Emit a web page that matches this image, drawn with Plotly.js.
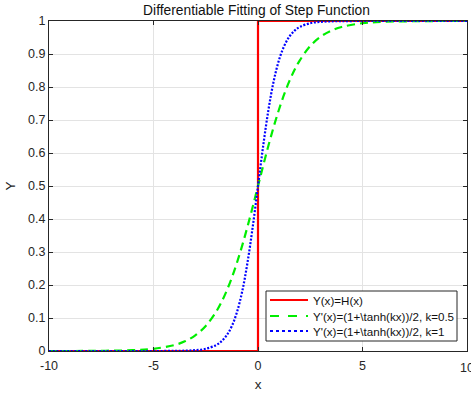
<!DOCTYPE html>
<html><head><meta charset="utf-8">
<script src="https://cdn.plot.ly/plotly-3.0.1.min.js"></script>
<style>html,body{margin:0;padding:0;background:#fff}#chart{width:471px;height:394px}</style>
</head><body><div id="chart"></div>
<script>
// Step function H(x)
var stepX = [-10, 0, 0, 10];
var stepY = [0, 0, 1, 1];
// sampled x positions
var xs = [-10, -8, -6, -5, -4, -3.5, -3, -2.5, -2, -1.75, -1.5, -1.25, -1, -0.75, -0.5, -0.25, 0,
          0.25, 0.5, 0.75, 1, 1.25, 1.5, 1.75, 2, 2.5, 3, 3.5, 4, 5, 6, 8, 10];
// k = 0.5 curve
var yK05 = [0.0000, 0.0003, 0.0025, 0.0067, 0.0180, 0.0293, 0.0474, 0.0759, 0.1192, 0.1480, 0.1824, 0.2227, 0.2689, 0.3208, 0.3775, 0.4378, 0.5000,
            0.5622, 0.6225, 0.6792, 0.7311, 0.7773, 0.8176, 0.8520, 0.8808, 0.9241, 0.9526, 0.9707, 0.9820, 0.9933, 0.9975, 0.9997, 1.0000];
// k = 1 curve
var yK1 = [0.0000, 0.0000, 0.0000, 0.0000, 0.0003, 0.0009, 0.0025, 0.0067, 0.0180, 0.0293, 0.0474, 0.0759, 0.1192, 0.1824, 0.2689, 0.3775, 0.5000,
           0.6225, 0.7311, 0.8176, 0.8808, 0.9241, 0.9526, 0.9707, 0.9820, 0.9933, 0.9975, 0.9991, 0.9997, 1.0000, 1.0000, 1.0000, 1.0000];
var names = ["Y(x)=H(x)", "Y'(x)=(1+\\tanh(kx))/2, k=0.5", "Y'(x)=(1+\\tanh(kx))/2, k=1"];
var xTicks = [-10, -5, 0, 5, 10];
var xTickText = ['-10', '-5', '0', '5', ''];
var lastTick = '10';

var colors = ['#ff0000', '#00ee00', '#0000ff'];
var dashes = ['solid', '8px,5px', '2px,1.6px'];

var traces = [
  {x: stepX, y: stepY, mode: 'lines', name: names[0], showlegend: false, line: {color: colors[0], width: 2.2}},
  {x: xs, y: yK05, mode: 'lines', name: names[1], showlegend: false, line: {color: colors[1], width: 2.2, dash: dashes[1], shape: 'spline'}},
  {x: xs, y: yK1, mode: 'lines', name: names[2], showlegend: false, line: {color: colors[2], width: 2.2, dash: dashes[2], shape: 'spline'}}
];
var fontFam = 'Liberation Sans, Arial, sans-serif';
var axCommon = {
  showline: true, mirror: 'ticks', linecolor: '#262626', linewidth: 1,
  ticks: 'inside', ticklen: 4, tickcolor: '#262626',
  showgrid: true, gridcolor: '#e3e3e3', gridwidth: 1, zeroline: false,
  tickfont: {family: fontFam, size: 12.5, color: '#262626'}
};

// custom legend (MATLAB-style compact box), paper coordinates
var pl = 49, pw = 418, pt = 21, ph = 330;
function px(x) { return (x - pl) / pw; }
function py(y) { return 1 - (y - pt) / ph; }
var shapes = [{type: 'rect', xref: 'paper', yref: 'paper', x0: px(266), x1: px(457), y0: py(341), y1: py(291),
               line: {color: '#262626', width: 1}, fillcolor: '#ffffff', layer: 'above'}];
var annotations = [];
var rowY = [300, 316, 331];
for (var i = 0; i < 3; i++) {
  shapes.push({type: 'line', xref: 'paper', yref: 'paper', x0: px(270), x1: px(308), y0: py(rowY[i]), y1: py(rowY[i]),
               line: {color: colors[i], width: 2.2, dash: i === 1 ? 'dash' : (i === 2 ? 'dot' : 'solid')}, layer: 'above'});
  annotations.push({xref: 'paper', yref: 'paper', x: px(311), y: py(rowY[i]), xanchor: 'left', yanchor: 'middle',
                    text: names[i], showarrow: false, font: {family: fontFam, size: 11.6, color: '#111'}});
}
annotations.push({xref: 'x', yref: 'paper', x: 10, y: 0, yshift: -8, xanchor: 'center', yanchor: 'top',
                  text: lastTick, showarrow: false, font: {family: fontFam, size: 12.5, color: '#262626'}});

var layout = {
  width: 471, height: 394,
  margin: {l: 49, r: 4, t: 21, b: 43},
  paper_bgcolor: '#ffffff', plot_bgcolor: '#ffffff',
  font: {family: fontFam, color: '#262626'},
  title: {text: 'Differentiable Fitting of Step Function', font: {size: 13.8, color: '#111'},
          x: 0.5446, xanchor: 'center', y: 0.974, yanchor: 'middle'},
  xaxis: Object.assign({}, axCommon, {range: [-10, 10], tickvals: xTicks, ticktext: xTickText, ticklabelstandoff: 3,
          title: {text: 'x', font: {size: 13.5, color: '#262626'}, standoff: 7}}),
  yaxis: Object.assign({}, axCommon, {range: [0, 1], dtick: 0.1, tickformat: '.1~f',
          title: {text: 'Y', font: {size: 13.5, color: '#262626'}, standoff: 9}}),
  showlegend: false,
  shapes: shapes,
  annotations: annotations
};
Plotly.newPlot('chart', traces, layout, {displayModeBar: false, staticPlot: true});
</script></body></html>
